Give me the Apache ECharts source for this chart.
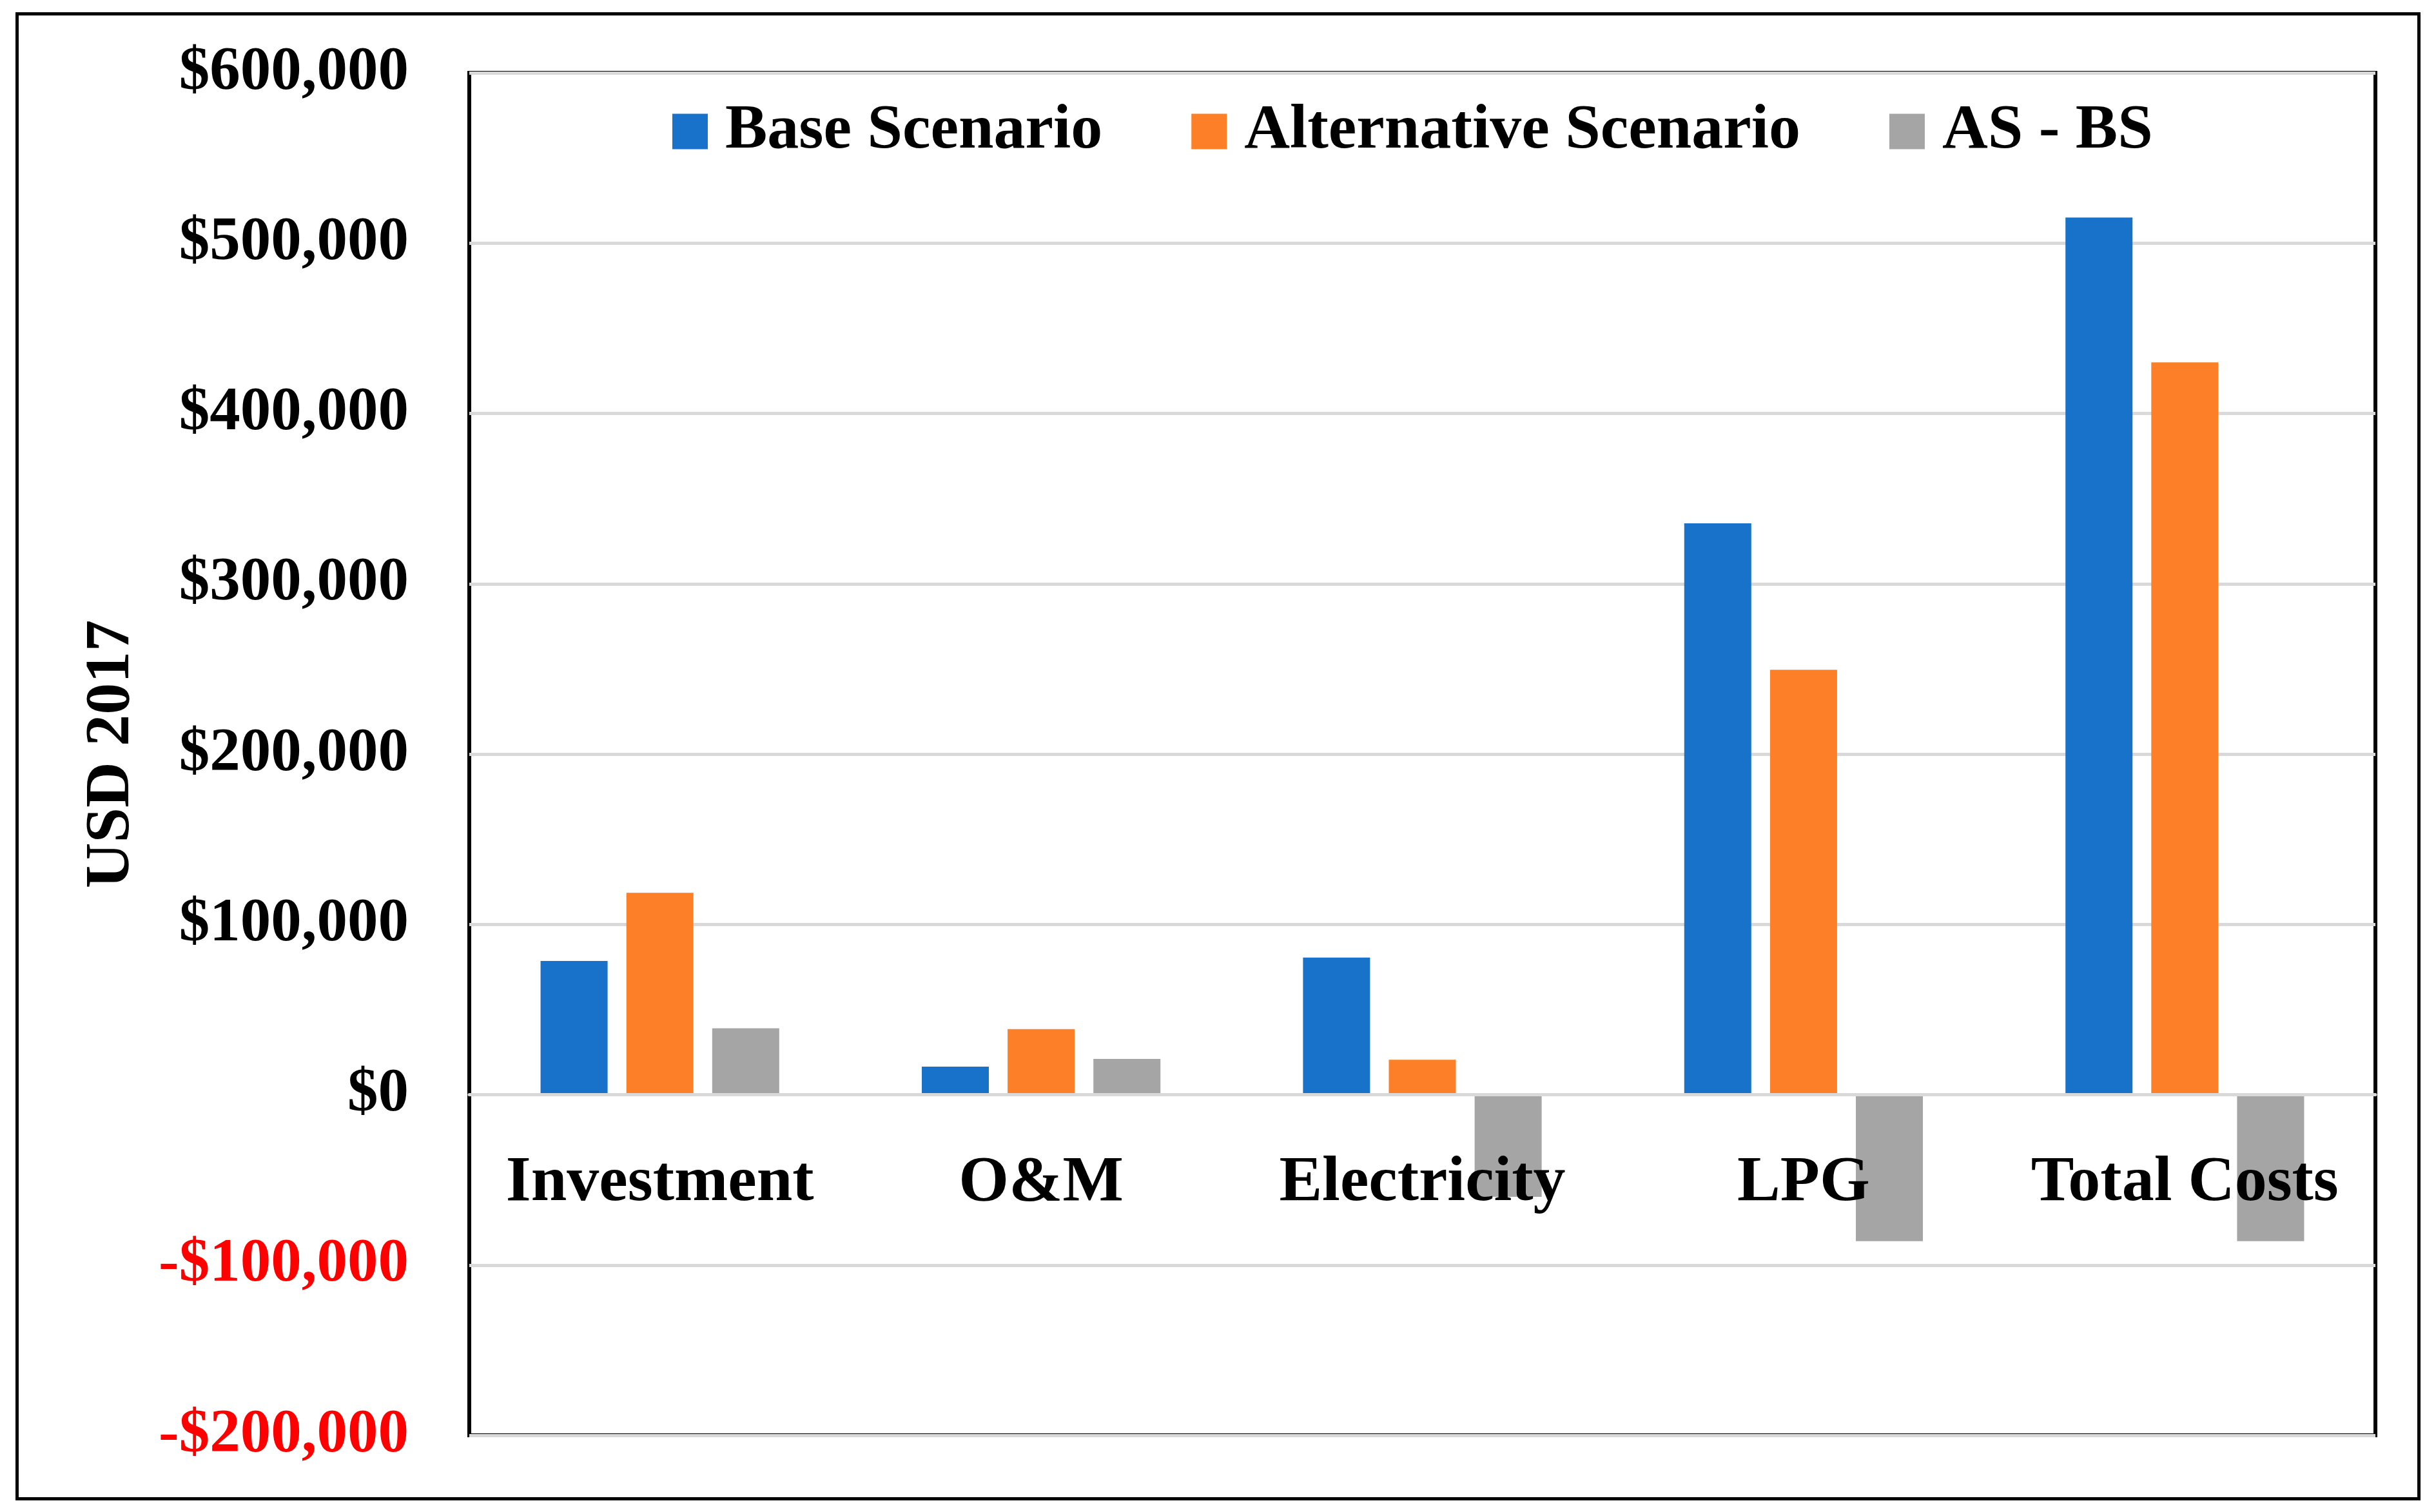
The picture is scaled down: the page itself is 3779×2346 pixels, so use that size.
<!DOCTYPE html>
<html>
<head>
<meta charset="utf-8">
<script src="https://cdn.jsdelivr.net/npm/echarts@6/dist/echarts.min.js"></script>
<style>
html,body{margin:0;padding:0;background:#fff;}
#chart{width:3779px;height:2346px;}
</style>
</head>
<body>
<div id="chart"></div>
<script>
const categories = ['Investment', 'O&M', 'Electricity', 'LPG', 'Total Costs'];
const seriesNames = ['Base Scenario', 'Alternative Scenario', 'AS - BS'];
const baseScenario = [78500, 16500, 80500, 335500, 515000];
const altScenario = [118500, 38500, 20500, 249500, 430000];
const difference = [39000, 21000, -60000, -86000, -86000];
const yMin = -200000, yMax = 600000, yStep = 100000;

const FONT = '"Liberation Serif", "DejaVu Serif", serif';
const GRID = { left: 728, right: 94, top: 113, bottom: 119 };
const plotH = 2346 - GRID.top - GRID.bottom;
const zeroOffset = plotH * (0 - yMin) / (yMax - yMin);

const chart = echarts.init(document.getElementById('chart'));

function money(v) {
  const s = Math.abs(v).toLocaleString('en-US');
  return (v < 0 ? '-$' : '$') + s;
}

chart.setOption({
  backgroundColor: '#ffffff',
  animation: false,
  textStyle: { fontFamily: FONT, fontWeight: 'bold' },
  graphic: [{
    type: 'rect',
    left: 24, top: 19,
    shape: { width: 3726, height: 2304 },
    style: { fill: 'none', stroke: '#000', lineWidth: 5 },
    silent: true, z: -1
  }],
  legend: {
    data: seriesNames,
    left: 1038,
    top: 150,
    itemWidth: 55,
    itemHeight: 55,
    itemGap: 138,
    icon: 'rect',
    textStyle: { fontFamily: FONT, fontWeight: 'bold', fontSize: 98, color: '#000', padding: [0, 0, 0, 22] }
  },
  grid: {
    left: GRID.left, right: GRID.right, top: GRID.top, bottom: GRID.bottom,
    outerBoundsMode: 'none',
    containLabel: false,
    show: true, borderColor: '#000', borderWidth: 6, backgroundColor: 'transparent'
  },
  xAxis: {
    type: 'category',
    data: categories,
    z: 10,
    position: 'bottom',
    offset: -zeroOffset,
    axisLine: { onZero: false, lineStyle: { color: '#D9D9D9', width: 5 } },
    axisTick: { show: false },
    axisLabel: { interval: 0, fontFamily: FONT, fontWeight: 'bold', fontSize: 100, color: '#000', margin: 88 },
    splitLine: { show: false }
  },
  yAxis: {
    type: 'value',
    min: yMin, max: yMax, interval: yStep,
    name: 'USD 2017',
    nameLocation: 'middle',
    nameGap: 505,
    nameRotate: 90,
    nameTextStyle: { fontFamily: FONT, fontWeight: 'bold', fontSize: 98, color: '#000' },
    axisLine: { show: false },
    axisTick: { show: false },
    axisLabel: {
      fontFamily: FONT, fontWeight: 'bold', fontSize: 95, margin: 94,
      formatter: money,
      color: function (v) { return Number(v) < 0 ? '#FF0000' : '#000000'; }
    },
    splitLine: { lineStyle: { color: '#D9D9D9', width: 5 } }
  },
  series: [
    { name: seriesNames[0], type: 'bar', data: baseScenario, barWidth: 104, barGap: '28%', itemStyle: { color: '#1872C9' } },
    { name: seriesNames[1], type: 'bar', data: altScenario, barWidth: 104, barGap: '28%', itemStyle: { color: '#FD7F27' } },
    { name: seriesNames[2], type: 'bar', data: difference, barWidth: 104, barGap: '28%', itemStyle: { color: '#A5A5A5' } }
  ]
});
</script>
</body>
</html>
